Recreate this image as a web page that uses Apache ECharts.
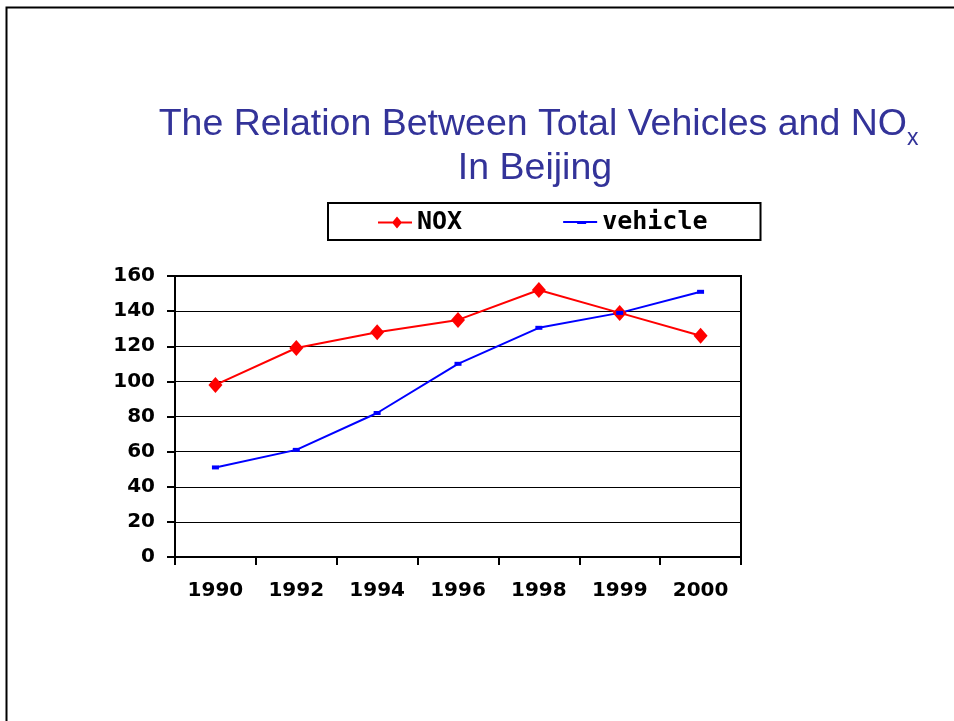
<!DOCTYPE html>
<html>
<head>
<meta charset="utf-8">
<script src="https://cdn.jsdelivr.net/npm/echarts@6/dist/echarts.min.js"></script>
<style>
html, body { margin: 0; padding: 0; background: #fff; }
#chart { width: 954px; height: 721px; }
</style>
</head>
<body>
<div id="chart"></div>
<script>
// data
var years = ['1990', '1992', '1994', '1996', '1998', '1999', '2000'];
var nox = [98, 119, 128, 135, 152, 139, 126];
var vehicle = [51, 61, 82, 110, 130.5, 139, 151];

var chart = echarts.init(document.getElementById('chart'));
var axisFont = { fontFamily: 'DejaVu Sans', fontWeight: 'bold', fontSize: 20, color: '#000' };

// legend icons: line + marker, like the original key
var noxIcon = 'path://M0,6L34,6L34,8L0,8Z M19,1L24,7L19,13L14,7Z';
var vehIcon = 'path://M0,6L34,6L34,8L0,8Z M14,6L23,6L23,9L14,9Z';

var option = {
  animation: false,
  backgroundColor: '#fff',
  graphic: [
    // slide frame
    { type: 'polyline', shape: { points: [[6.5, 721], [6.5, 7.5], [954, 7.5]] },
      style: { stroke: '#000', lineWidth: 2, fill: null } },
    { type: 'text', x: 907, y: 125,
      style: { text: 'The Relation Between Total Vehicles and NO', fontFamily: 'Liberation Sans', fontSize: 37.5,
               fill: '#333399', align: 'right', verticalAlign: 'middle' } },
    { type: 'text', x: 907, y: 139,
      style: { text: 'x', fontFamily: 'Liberation Sans', fontSize: 23,
               fill: '#333399', align: 'left', verticalAlign: 'middle' } },
    { type: 'text', x: 535, y: 169,
      style: { text: 'In Beijing', fontFamily: 'Liberation Sans', fontSize: 37.5,
               fill: '#333399', align: 'center', verticalAlign: 'middle' } }
  ],
  legend: {
    data: [{ name: 'NOX', icon: noxIcon }, { name: 'vehicle', icon: vehIcon }],
    left: 328,
    top: 203,
    padding: [7, 53, 5, 50],
    itemGap: 101,
    itemWidth: 34,
    itemHeight: 14,
    borderColor: '#000',
    borderWidth: 2,
    textStyle: { fontFamily: 'DejaVu Sans Mono', fontWeight: 'bold', fontSize: 25, color: '#000' }
  },
  grid: {
    left: 175,
    right: 213,
    top: 276,
    bottom: 164,
    show: true,
    borderColor: '#000',
    borderWidth: 2
  },
  xAxis: {
    type: 'category',
    data: years,
    boundaryGap: true,
    axisLine: { lineStyle: { color: '#000', width: 2 } },
    axisTick: { show: true, length: 8, interval: 0, lineStyle: { color: '#000', width: 2 } },
    axisLabel: Object.assign({ margin: 24, interval: 0 }, axisFont),
    splitLine: { show: false }
  },
  yAxis: {
    type: 'value',
    min: 0,
    max: 160,
    interval: 20,
    axisLine: { show: true, lineStyle: { color: '#000', width: 2 } },
    axisTick: { show: true, length: 8, lineStyle: { color: '#000', width: 2 } },
    axisLabel: Object.assign({ margin: 20 }, axisFont),
    splitLine: { show: true, lineStyle: { color: '#000', width: 1 } }
  },
  series: [
    {
      name: 'NOX',
      type: 'line',
      data: nox,
      symbol: 'diamond',
      symbolSize: [14, 16],
      showAllSymbol: true,
      color: '#ff0000',
      lineStyle: { color: '#ff0000', width: 2 },
      itemStyle: { color: '#ff0000' }
    },
    {
      name: 'vehicle',
      type: 'line',
      data: vehicle,
      symbol: 'rect',
      symbolSize: [7, 4],
      showAllSymbol: true,
      color: '#0000ff',
      lineStyle: { color: '#0000ff', width: 2 },
      itemStyle: { color: '#0000ff' }
    }
  ]
};

chart.setOption(option);
</script>
</body>
</html>
